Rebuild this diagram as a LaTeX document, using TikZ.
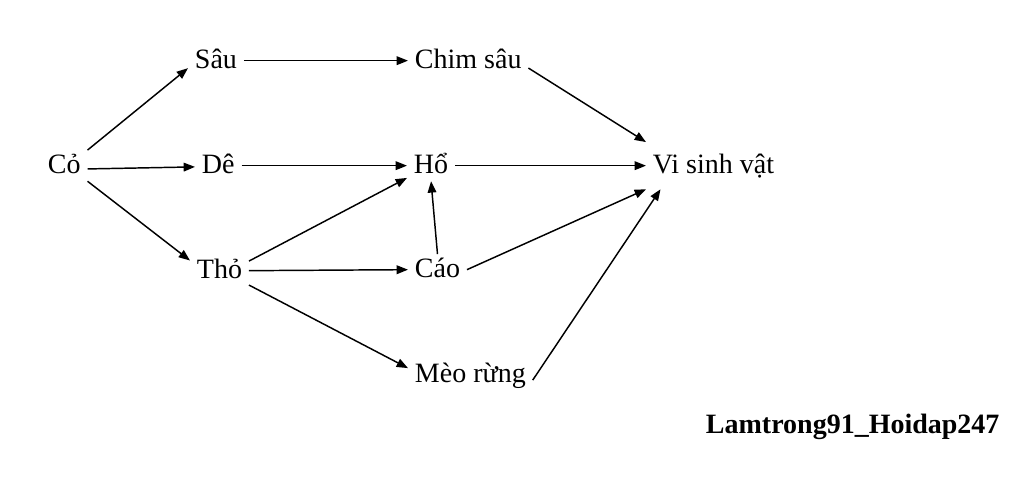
\documentclass[tikz,border=0pt]{standalone}
\usepackage{fontspec}
\setmainfont{Liberation Serif}
\usetikzlibrary{arrows.meta}
\begin{document}
\begin{tikzpicture}[x=0.75pt,y=-0.75pt,
  lbl/.style={anchor=base west,font=\fontsize{21pt}{25pt}\selectfont,
    text height=15pt,text depth=4pt,inner xsep=5pt,inner ysep=2pt},
  arr/.style={-{Triangle[length=8.5pt,width=6.5pt]},line width=1.1pt}]
\useasboundingbox[fill=white] (0,0) rectangle (1024,479);
\node[lbl] (co)   at (41,173)  {Cỏ};
\node[lbl] (sau)  at (188,68)  {Sâu};
\node[lbl] (de)   at (195,173) {Dê};
\node[lbl] (tho)  at (190,278) {Thỏ};
\node[lbl] (chim) at (408,68)  {Chim sâu};
\node[lbl] (ho)   at (407,173) {Hổ};
\node[lbl] (cao)  at (408,277) {Cáo};
\node[lbl] (meo)  at (408,382) {Mèo rừng};
\node[lbl,inner ysep=8pt] (vsv) at (646,173) {Vi sinh vật};
\node[lbl,font=\fontsize{21pt}{25pt}\selectfont\bfseries] (wm) at (699,433) {Lamtrong91\_Hoidap247};
\draw[arr] (co.north east) -- (sau.195);
\draw[arr] (co.-8) -- (de.183);
\draw[arr] (co.south east) -- (tho.161);
\draw[arr] (sau.east) -- (chim.west);
\draw[arr] (de.east) -- (ho.west);
\draw[arr] (tho.18) -- (ho.207);
\draw[arr] (tho.east) -- (cao.west);
\draw[arr] (tho.-26) -- (meo.174);
\draw[arr] (cao.north) -- (ho.south);
\draw[arr] (chim.-7) -- (vsv.north west);
\draw[arr] (ho.east) -- (vsv.west);
\draw[arr] (cao.east) -- (vsv.south west);
\draw[arr] (meo.-5) -- (vsv.204);
\end{tikzpicture}
\end{document}
